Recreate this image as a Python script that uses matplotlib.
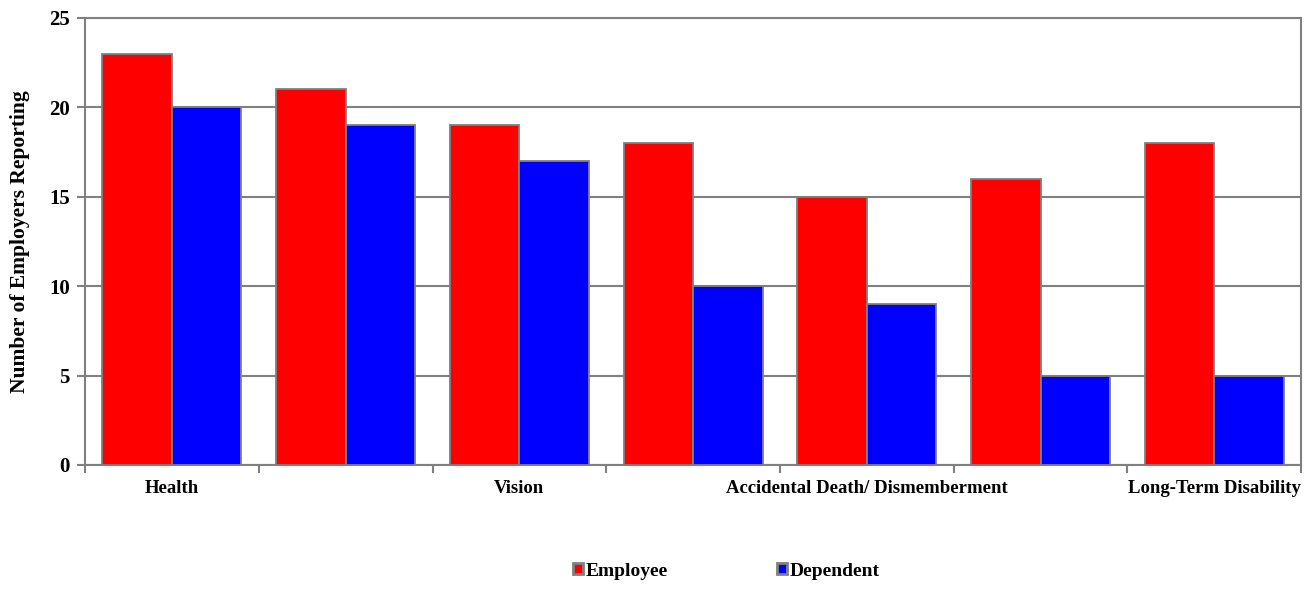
import numpy as np
import matplotlib.pyplot as plt
from matplotlib.patches import Patch

plt.rcParams['font.family'] = ['Liberation Serif', 'DejaVu Serif']
plt.rcParams['font.weight'] = 'bold'

# data
categories = ["Health", "", "Vision", "", "Accidental Death/ Dismemberment", "", "Long-Term Disability"]
employee = [23, 21, 19, 18, 15, 16, 18]
dependent = [20, 19, 17, 10, 9, 5, 5]
yticks = [0, 5, 10, 15, 20, 25]

gray = '#808080'
fig = plt.figure(figsize=(13.09, 6.09), dpi=100)
ax = fig.add_axes([0.065, 0.2365, 0.929, 0.734])

x = np.arange(len(categories))
w = 0.4
ax.bar(x - w / 2, employee, w, color='#ff0000', edgecolor=gray, linewidth=1.3, zorder=3)
ax.bar(x + w / 2, dependent, w, color='#0000ff', edgecolor=gray, linewidth=1.3, zorder=3)

ax.set_xlim(-0.5, len(categories) - 0.5)
ax.set_ylim(0, 25)
ax.set_yticks(yticks)
ax.yaxis.grid(True, color=gray, linewidth=1.5, zorder=0)
for s in ax.spines.values():
    s.set_color(gray)
    s.set_linewidth(1.5)

# category boundary ticks, labels at centers
ax.set_xticks(np.arange(len(categories) + 1) - 0.5)
ax.set_xticklabels([])
ax.set_xticks(x, minor=True)
ax.set_xticklabels(categories, minor=True, fontsize=13.5, fontweight='bold')
ax.tick_params(axis='x', which='minor', length=0, pad=11)
ax.tick_params(axis='x', which='major', length=6, width=1.5, color=gray)
ax.tick_params(axis='y', length=6, width=1.5, color=gray, labelsize=15, pad=5)
for t in ax.get_yticklabels():
    t.set_fontweight('bold')

ax.set_ylabel("Number of Employers Reporting", fontsize=15.5, fontweight='bold', labelpad=14)

handles = [Patch(facecolor='#ff0000', edgecolor=gray, linewidth=2, label='Employee'),
           Patch(facecolor='#0000ff', edgecolor=gray, linewidth=2, label='Dependent')]
fig.legend(handles=handles, loc='center', bbox_to_anchor=(0.555, 0.062), ncol=2, frameon=False,
           prop={'size': 14, 'weight': 'bold'}, handlelength=0.5, handleheight=0.5,
           handletextpad=0.15, columnspacing=5.6)

fig.savefig('out.png', dpi=100)
